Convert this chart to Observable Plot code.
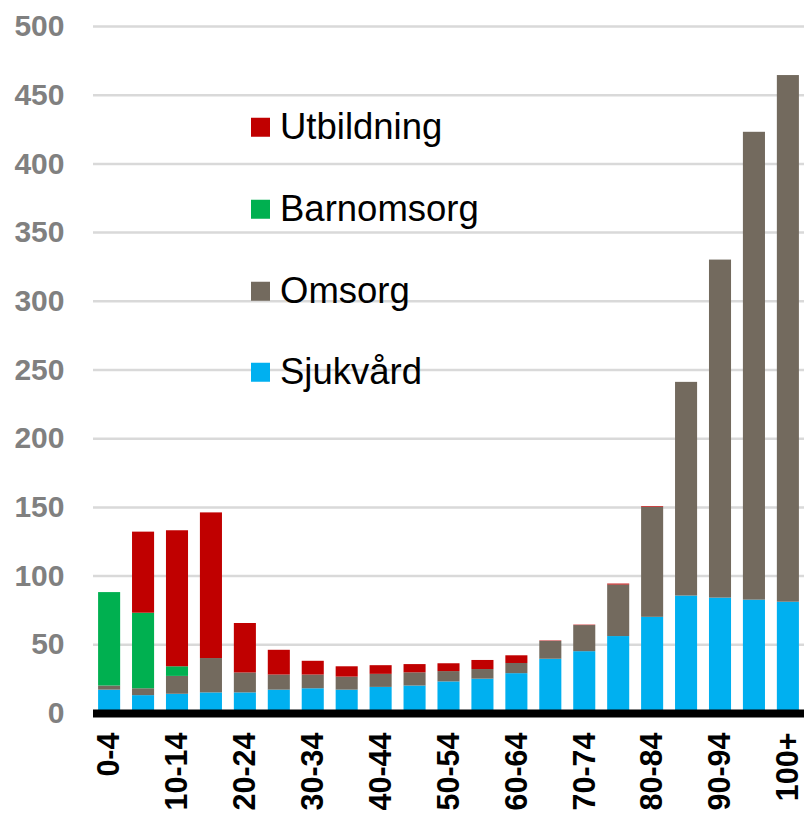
<!DOCTYPE html>
<html>
<head>
<meta charset="utf-8">
<script src="https://cdn.jsdelivr.net/npm/d3@7"></script>
<script src="https://cdn.jsdelivr.net/npm/@observablehq/plot@0.6"></script>
<style>
  html, body { margin: 0; padding: 0; background: #fff; }
  #wrap { position: relative; width: 804px; height: 813px; overflow: hidden; font-family: "Liberation Sans", Arial, sans-serif; }
  #legend { position: absolute; left: 251px; top: 0; }
  .li { position: absolute; left: 0; display: flex; align-items: center; white-space: nowrap; transform: translateY(-50%); }
  .sw { width: 19px; height: 19px; margin-right: 10px; }
  .lt { font-size: 36.5px; color: #000; line-height: 1; }
</style>
</head>
<body>
<div id="wrap"></div>
<script>
const ageGroups = ["0-4","5-9","10-14","15-19","20-24","25-29","30-34","35-39","40-44","45-49","50-54","55-59","60-64","65-69","70-74","75-79","80-84","85-89","90-94","95-99","100+"];
const tickLabels = ["0-4","10-14","20-24","30-34","40-44","50-54","60-64","70-74","80-84","90-94","100+"];
const yTicks = [0,50,100,150,200,250,300,350,400,450,500];

const seriesNames = ["Sjukvård","Omsorg","Barnomsorg","Utbildning"];
const seriesColors = ["#00b0f0","#736a5e","#00b050","#c00000"];

const sjukvard   = [17,13,14,15,15,17,18,17,19,20,23,25,29,39.5,45,56,70,85.5,84,82.5,81];
const omsorg     = [3,5,13,25,14.5,11,10,9.5,9.5,9.6,7.5,7,7.4,13,19,37.5,80,155.5,246,340.5,383.3];
const barnomsorg = [68,55,7,0,0,0,0,0,0,0,0,0,0,0,0,0,0,0,0,0,0];
const utbildning = [0,59,99,106,36,18,10,7.5,6.3,6,5.7,6.6,5.6,0.3,0.3,0.7,0.5,0,0,0,0];

const seriesValues = [sjukvard, omsorg, barnomsorg, utbildning];
const rows = [];
seriesNames.forEach((s, si) => {
  ageGroups.forEach((a, ai) => rows.push({age: a, series: s, value: seriesValues[si][ai]}));
});

const chart = Plot.plot({
  width: 804,
  height: 813,
  marginTop: 26,
  marginBottom: 100,
  marginLeft: 93,
  marginRight: 0,
  style: {background: "#fff", fontFamily: "Liberation Sans, Arial, sans-serif"},
  x: {domain: ageGroups, paddingInner: 0.35, paddingOuter: 0.15, round: false, label: null},
  y: {domain: [0, 500], label: null},
  color: {domain: seriesNames, range: seriesColors},
  marks: [
    Plot.gridY(yTicks, {stroke: "#d9d9d9", strokeOpacity: 1, strokeWidth: 2.5}),
    Plot.barY(rows, Plot.stackY({x: "age", y: "value", fill: "series", order: seriesNames})),
    Plot.ruleY([0], {stroke: "#000", strokeWidth: 8}),
    Plot.axisY(yTicks, {tickSize: 0, tickPadding: 29, fontSize: 30, fontWeight: "bold", fill: "#808080", label: null}),
    Plot.axisX(tickLabels, {tickSize: 0, tickPadding: 19, tickRotate: -90, fontSize: 30.5, fontWeight: "bold", fill: "#000", label: null})
  ]
});

const wrap = document.getElementById("wrap");
wrap.appendChild(chart);

const legendItems = ["Utbildning","Barnomsorg","Omsorg","Sjukvård"];
const legendTops = [127, 209, 291, 372];
const legend = document.createElement("div");
legend.id = "legend";
legendItems.forEach((name, i) => {
  const item = document.createElement("div");
  item.className = "li";
  item.style.top = legendTops[i] + "px";
  const sw = document.createElement("div");
  sw.className = "sw";
  sw.style.background = seriesColors[seriesNames.indexOf(name)];
  const t = document.createElement("span");
  t.className = "lt";
  t.textContent = name;
  item.appendChild(sw);
  item.appendChild(t);
  legend.appendChild(item);
});
wrap.appendChild(legend);
</script>
</body>
</html>
